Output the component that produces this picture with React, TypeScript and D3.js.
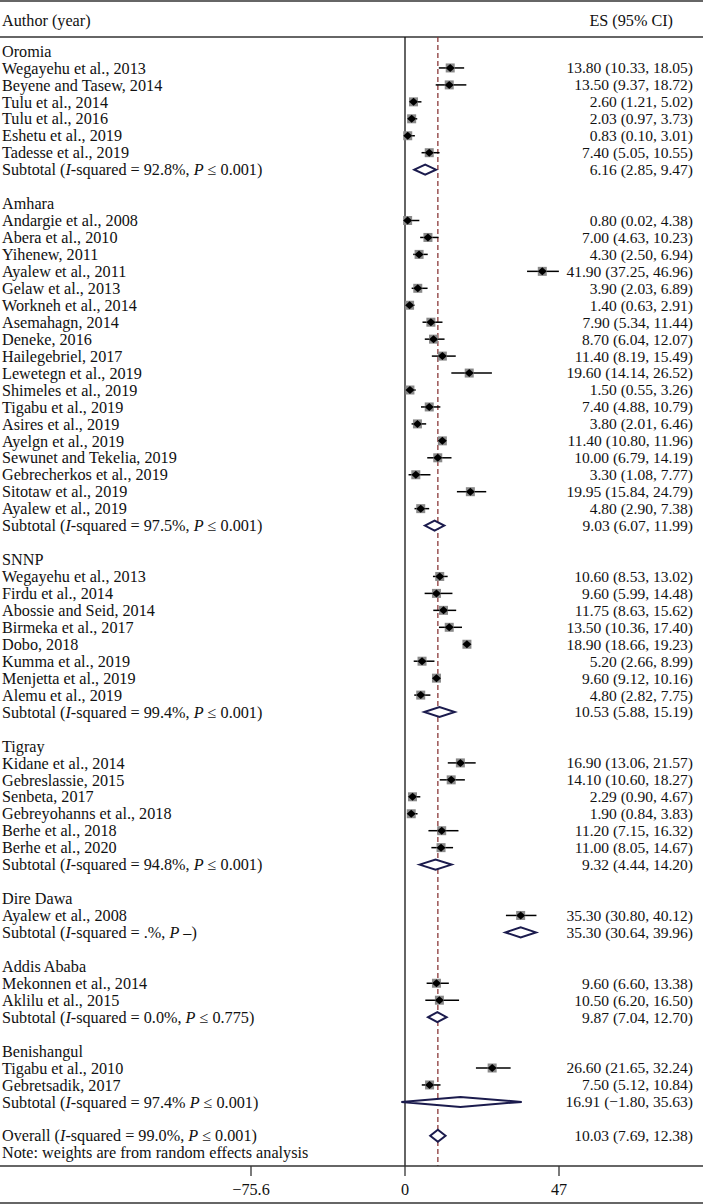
import React, { useEffect } from 'react';
import * as d3 from 'd3';

// study rows: [label, es, lower, upper]
const oromia: [string, number, number, number][] = [
  ['Wegayehu et al., 2013', 13.8, 10.33, 18.05],
  ['Beyene and Tasew, 2014', 13.5, 9.37, 18.72],
  ['Tulu et al., 2014', 2.6, 1.21, 5.02],
  ['Tulu et al., 2016', 2.03, 0.97, 3.73],
  ['Eshetu et al., 2019', 0.83, 0.1, 3.01],
  ['Tadesse et al., 2019', 7.4, 5.05, 10.55],
];
const amhara: [string, number, number, number][] = [
  ['Andargie et al., 2008', 0.8, 0.02, 4.38],
  ['Abera et al., 2010', 7.0, 4.63, 10.23],
  ['Yihenew, 2011', 4.3, 2.5, 6.94],
  ['Ayalew et al., 2011', 41.9, 37.25, 46.96],
  ['Gelaw et al., 2013', 3.9, 2.03, 6.89],
  ['Workneh et al., 2014', 1.4, 0.63, 2.91],
  ['Asemahagn, 2014', 7.9, 5.34, 11.44],
  ['Deneke, 2016', 8.7, 6.04, 12.07],
  ['Hailegebriel, 2017', 11.4, 8.19, 15.49],
  ['Lewetegn et al., 2019', 19.6, 14.14, 26.52],
  ['Shimeles et al., 2019', 1.5, 0.55, 3.26],
  ['Tigabu et al., 2019', 7.4, 4.88, 10.79],
  ['Asires et al., 2019', 3.8, 2.01, 6.46],
  ['Ayelgn et al., 2019', 11.4, 10.8, 11.96],
  ['Sewunet and Tekelia, 2019', 10.0, 6.79, 14.19],
  ['Gebrecherkos et al., 2019', 3.3, 1.08, 7.77],
  ['Sitotaw et al., 2019', 19.95, 15.84, 24.79],
  ['Ayalew et al., 2019', 4.8, 2.9, 7.38],
];
const snnp: [string, number, number, number][] = [
  ['Wegayehu et al., 2013', 10.6, 8.53, 13.02],
  ['Firdu et al., 2014', 9.6, 5.99, 14.48],
  ['Abossie and Seid, 2014', 11.75, 8.63, 15.62],
  ['Birmeka et al., 2017', 13.5, 10.36, 17.4],
  ['Dobo, 2018', 18.9, 18.66, 19.23],
  ['Kumma et al., 2019', 5.2, 2.66, 8.99],
  ['Menjetta et al., 2019', 9.6, 9.12, 10.16],
  ['Alemu et al., 2019', 4.8, 2.82, 7.75],
];
const tigray: [string, number, number, number][] = [
  ['Kidane et al., 2014', 16.9, 13.06, 21.57],
  ['Gebreslassie, 2015', 14.1, 10.6, 18.27],
  ['Senbeta, 2017', 2.29, 0.9, 4.67],
  ['Gebreyohanns et al., 2018', 1.9, 0.84, 3.83],
  ['Berhe et al., 2018', 11.2, 7.15, 16.32],
  ['Berhe et al., 2020', 11.0, 8.05, 14.67],
];
const direDawa: [string, number, number, number][] = [
  ['Ayalew et al., 2008', 35.3, 30.8, 40.12],
];
const addisAbaba: [string, number, number, number][] = [
  ['Mekonnen et al., 2014', 9.6, 6.6, 13.38],
  ['Aklilu et al., 2015', 10.5, 6.2, 16.5],
];
const benishangul: [string, number, number, number][] = [
  ['Tigabu et al., 2010', 26.6, 21.65, 32.24],
  ['Gebretsadik, 2017', 7.5, 5.12, 10.84],
];

const groupNames = ['Oromia', 'Amhara', 'SNNP', 'Tigray', 'Dire Dawa', 'Addis Ababa', 'Benishangul'];
const groupStudies = [oromia, amhara, snnp, tigray, direDawa, addisAbaba, benishangul];
// subtotal: [es, lower, upper, I-squared text, P text, separator]
const subtotals: [number, number, number, string, string, string][] = [
  [6.16, 2.85, 9.47, '92.8%', '≤ 0.001', ',  '],
  [9.03, 6.07, 11.99, '97.5%', '≤ 0.001', ', '],
  [10.53, 5.88, 15.19, '99.4%', '≤ 0.001', ', '],
  [9.32, 4.44, 14.2, '94.8%', '≤ 0.001', ', '],
  [35.3, 30.64, 39.96, '.%', '–', ', '],
  [9.87, 7.04, 12.7, '0.0%', '≤ 0.775', ', '],
  [16.91, -1.8, 35.63, '97.4%', '≤ 0.001', ' '],
];
const overall: [number, number, number, string, string] = [10.03, 7.69, 12.38, '99.0%', '≤ 0.001'];
const tickValues = [-75.6, 0, 47];

const W = 703;
const H = 1204;
const y0 = 51;
const step = 16.95;
const FONT = '"Liberation Serif", "Times New Roman", serif';
const FS = 16.2;
const FS_RIGHT = 15.5;

const fmt = (v: number) => (v < 0 ? '−' + Math.abs(v).toFixed(2) : v.toFixed(2));
const ciText = (es: number, lo: number, hi: number) => `${fmt(es)} (${fmt(lo)}, ${fmt(hi)})`;

type Row =
  | { kind: 'group'; label: string; i: number }
  | { kind: 'study'; label: string; es: number; lo: number; hi: number; i: number }
  | { kind: 'sub'; es: number; lo: number; hi: number; isq: string; p: string; sep: string; i: number }
  | { kind: 'overall'; i: number }
  | { kind: 'note'; i: number };

const App = () => {
  useEffect(() => {
    document.body.style.margin = '0';
  }, []);

  const x = d3.scaleLinear().domain([-75.6, 0, 47]).range([251, 405, 559]);
  const yOf = (i: number) => y0 + i * step;

  const rows: Row[] = [];
  let i = 0;
  groupNames.forEach((g, gi) => {
    rows.push({ kind: 'group', label: g, i: i++ });
    groupStudies[gi].forEach(([label, es, lo, hi]) => rows.push({ kind: 'study', label, es, lo, hi, i: i++ }));
    const [es, lo, hi, isq, p, sep] = subtotals[gi];
    rows.push({ kind: 'sub', es, lo, hi, isq, p, sep, i: i++ });
    i++;
  });
  rows.push({ kind: 'overall', i: i++ });
  rows.push({ kind: 'note', i: i++ });

  const axisY = 1166;
  const navy = '#1b1b4d';

  const diamond = (es: number, lo: number, hi: number, y: number, h = 5) =>
    `M${x(lo)},${y} L${x(es)},${y - h} L${x(hi)},${y} L${x(es)},${y + h} Z`;

  const rightText = (y: number, s: string) => (
    <text x={693} y={y} dy="0.35em" textAnchor="end" fontSize={FS_RIGHT} fill="#111">{s}</text>
  );

  return (
    <svg width={W} height={H} style={{ display: 'block', background: '#fff' }} fontFamily={FONT} fontSize={FS}>
      <line x1={0} x2={W} y1={1} y2={1} stroke="#333" strokeWidth={1.5} />
      <line x1={0} x2={W} y1={37} y2={37} stroke="#333" strokeWidth={1.5} />
      <text x={2} y={20} dy="0.35em" fill="#111">Author (year)</text>
      <text x={673} y={20} dy="0.35em" textAnchor="end" fill="#111">ES (95% CI)</text>

      <line x1={x(0)} x2={x(0)} y1={37} y2={axisY} stroke="#111" strokeWidth={1.3} />
      <line x1={x(overall[0])} x2={x(overall[0])} y1={37} y2={axisY} stroke="#8b3a3a" strokeWidth={1.3} strokeDasharray="5,3" />

      {rows.map((r) => {
        const y = yOf(r.i);
        if (r.kind === 'group') {
          return <text key={r.i} x={2} y={y} dy="0.35em" fill="#111">{r.label}</text>;
        }
        if (r.kind === 'study') {
          return (
            <g key={r.i}>
              <text x={2} y={y} dy="0.35em" fill="#111">{r.label}</text>
              <line x1={x(r.lo)} x2={x(r.hi)} y1={y} y2={y} stroke="#000" strokeWidth={1.5} />
              <rect x={x(r.es) - 4.5} y={y - 4.5} width={9} height={9} fill="#8a8a8a" />
              <path d={`M${x(r.es) - 4.5},${y} L${x(r.es)},${y - 4} L${x(r.es) + 4.5},${y} L${x(r.es)},${y + 4} Z`} fill="#000" />
              {rightText(y, ciText(r.es, r.lo, r.hi))}
            </g>
          );
        }
        if (r.kind === 'sub') {
          return (
            <g key={r.i}>
              <text x={2} y={y} dy="0.35em" fill="#111">
                Subtotal (<tspan fontStyle="italic">I</tspan>-squared = {r.isq}{r.sep}<tspan fontStyle="italic">P</tspan> {r.p})
              </text>
              <path d={diamond(r.es, r.lo, r.hi, y)} fill="#fff" stroke={navy} strokeWidth={2} />
              {rightText(y, ciText(r.es, r.lo, r.hi))}
            </g>
          );
        }
        if (r.kind === 'overall') {
          const [es, lo, hi, isq, p] = overall;
          return (
            <g key={r.i}>
              <text x={2} y={y} dy="0.35em" fill="#111">
                Overall (<tspan fontStyle="italic">I</tspan>-squared = {isq}, <tspan fontStyle="italic">P</tspan> {p})
              </text>
              <path d={diamond(es, lo, hi, y, 6)} fill="#fff" stroke={navy} strokeWidth={2} />
              {rightText(y, ciText(es, lo, hi))}
            </g>
          );
        }
        return <text key={r.i} x={2} y={y} dy="0.35em" fill="#111">Note: weights are from random effects analysis</text>;
      })}

      <line x1={0} x2={W} y1={axisY} y2={axisY} stroke="#333" strokeWidth={1.3} />
      {tickValues.map((t) => (
        <g key={t} transform={`translate(${x(t)},0)`}>
          <line y1={axisY} y2={axisY + 10} stroke="#333" strokeWidth={1.3} />
          <text y={1189} dy="0.35em" textAnchor="middle" fill="#111">{t < 0 ? '−' + Math.abs(t) : t}</text>
        </g>
      ))}
      <line x1={0} x2={W} y1={1203} y2={1203} stroke="#333" strokeWidth={1.5} />
    </svg>
  );
};

export default App;
